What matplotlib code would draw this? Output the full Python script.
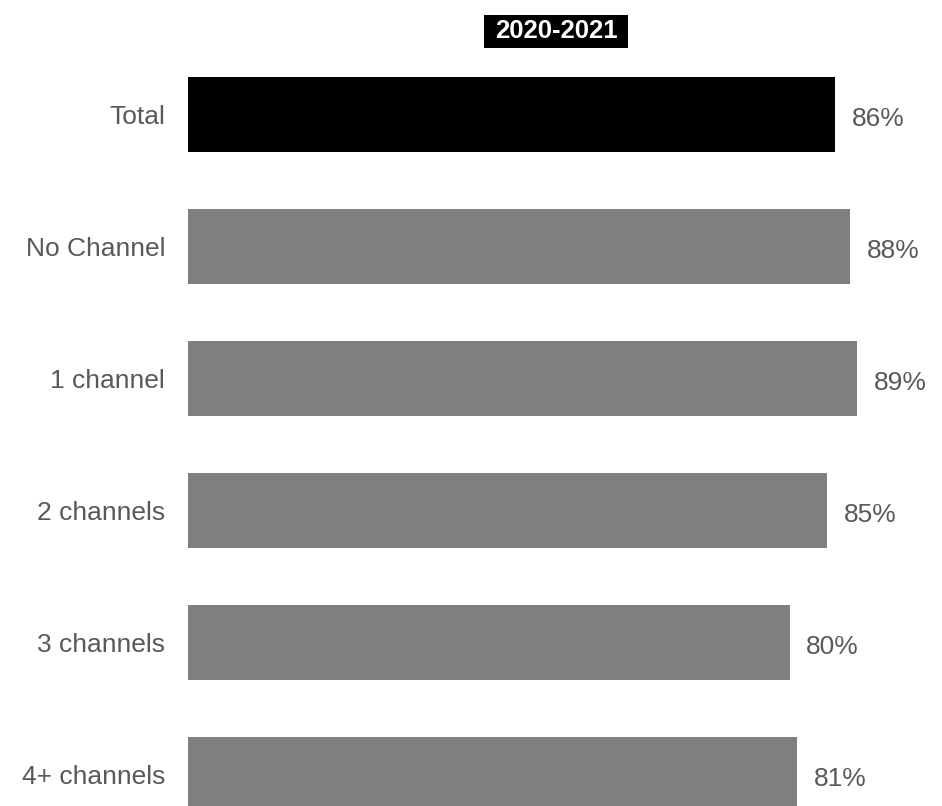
import matplotlib.pyplot as plt
from matplotlib.patches import Rectangle

categories = ['Total', 'No Channel', '1 channel', '2 channels', '3 channels', '4+ channels']
values = [86, 88, 89, 85, 80, 81]
colors = ['#000000', '#7f7f7f', '#7f7f7f', '#7f7f7f', '#7f7f7f', '#7f7f7f']
title = '2020-2021'

plt.rcParams['font.family'] = ['Liberation Sans', 'DejaVu Sans']

fig = plt.figure(figsize=(9.42, 8.06), dpi=100)
ax = fig.add_axes([188 / 942, 0, 752 / 942, 1])

pos = list(range(len(categories)))
ax.barh(pos, values, height=0.57, color=colors)

# value labels to the right of each bar, sitting a little below centre
for y, v in zip(pos, values):
    ax.annotate(f'{v}%', xy=(v, y), xytext=(12, -3.5), textcoords='offset points',
                ha='left', va='center', fontsize=19, color='#595959')

ax.set_xlim(0, 100)
ax.set_ylim(5.2386, -0.8674)
ax.set_yticks(pos)
ax.set_yticklabels(categories, fontsize=19, color='#595959')
ax.tick_params(axis='y', length=0, pad=16.5)
ax.set_xticks([])
for s in ax.spines.values():
    s.set_visible(False)

# black title box
fig.patches.append(Rectangle((484 / 942, 1 - 48 / 806), 144 / 942, 33 / 806,
                             transform=fig.transFigure, facecolor='black',
                             edgecolor='none'))
fig.text(556 / 942, 1 - 31.5 / 806, title, ha='center', va='center',
         fontsize=18.5, fontweight='bold', color='white')

fig.savefig('out.png', dpi=100)
plt.close(fig)
